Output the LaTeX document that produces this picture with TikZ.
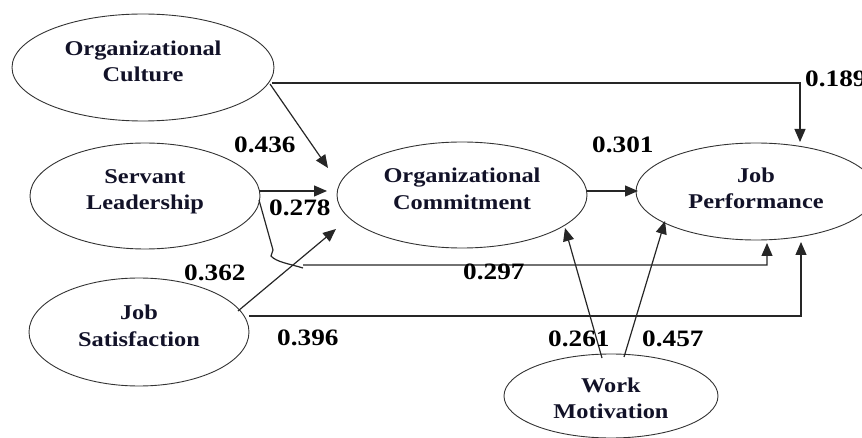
\documentclass[tikz,border=0pt]{standalone}
\usepackage{fontspec}
\setmainfont{Liberation Serif}[FakeStretch=1.16]
\usetikzlibrary{shapes.geometric,arrows.meta}
\newcommand{\lowtxt}[1]{\rule[-#1pt]{0pt}{#1pt}}
\definecolor{lblcol}{RGB}{18,18,40}
\begin{document}
\begin{tikzpicture}[x=1pt,y=-1pt,
  ell/.style={draw=black!80, line width=0.9pt, ellipse, inner sep=0pt, align=center,
    text=lblcol, font=\fontsize{21}{26.5}\selectfont\bfseries},
  conn/.style={draw=black!85, line width=1.2pt},
  arr/.style={-{Triangle[length=13pt,width=11pt]}},
  num/.style={inner sep=0pt, anchor=base west, font=\fontsize{23.5}{26}\selectfont\bfseries}]
\useasboundingbox (0,0) rectangle (862,438);

% ellipses
\node[ell, minimum width=262pt, minimum height=107pt] (oc)  at (143,67.5) {Organizational\\Culture\lowtxt{13}};
\node[ell, minimum width=230pt, minimum height=106pt] (sl)  at (145,196)  {Servant\\Leadership\lowtxt{13}};
\node[ell, minimum width=220pt, minimum height=108pt] (js)  at (139,332)  {Job\\Satisfaction\lowtxt{13}};
\node[ell, minimum width=250pt, minimum height=106pt] (ocm) at (462,195)  {Organizational\\Commitment\lowtxt{13}};
\node[ell, minimum width=240pt, minimum height=97pt]  (jp)  at (756,191.5){Job\\Performance\lowtxt{6.5}};
\node[ell, minimum width=214pt, minimum height=84pt]  (wm)  at (611,396)  {\rule{0pt}{19pt}Work\\Motivation};

% connectors
\draw[conn,arr] ([shift={(127,16.5)}]oc.center) -- ([shift={(-134,-27)}]ocm.center);
\draw[conn,arr] ([shift={(129,15.5)}]oc.center) -| ([shift={(44,-49.5)}]jp.center);
\draw[conn,arr] ([shift={(114,-5)}]sl.center) -- ([shift={(-135,-4)}]ocm.center);
\draw[conn,arr] ([shift={(114,4)}]sl.center) -- (273,250) -- (271,256)
   .. controls (276,262) and (290,264) .. (303,268)
   (303,265) -- (767,265) -- ([shift={(11,51.5)}]jp.center);
\draw[conn,arr] ([shift={(99,-21)}]js.center) -- ([shift={(-126,34)}]ocm.center);
\draw[conn,arr] ([shift={(110,-16)}]js.center) -| ([shift={(45,50.5)}]jp.center);
\draw[conn,arr] ([shift={(125,-4)}]ocm.center) -- ([shift={(-118,-0.5)}]jp.center);
\draw[conn,arr] ([shift={(-9,-38)}]wm.center) -- ([shift={(103,33)}]ocm.center);
\draw[conn,arr] ([shift={(13,-39)}]wm.center) -- ([shift={(-91,29.5)}]jp.center);

% coefficients
\node[num] (n436) at (234,153) {0.436};
\node[num] (n278) at (269,215.5) {0.278};
\node[num] (n189) at (805,87) {0.189};
\node[num] (n301) at (592,153) {0.301};
\node[num] (n362) at (184,281) {0.362};
\node[num] (n297) at (463,280) {0.297};
\node[num] (n396) at (277,345) {0.396};
\node[num] (n261) at (548,346) {0.261};
\node[num] (n457) at (642,346) {0.457};
\end{tikzpicture}
\end{document}
